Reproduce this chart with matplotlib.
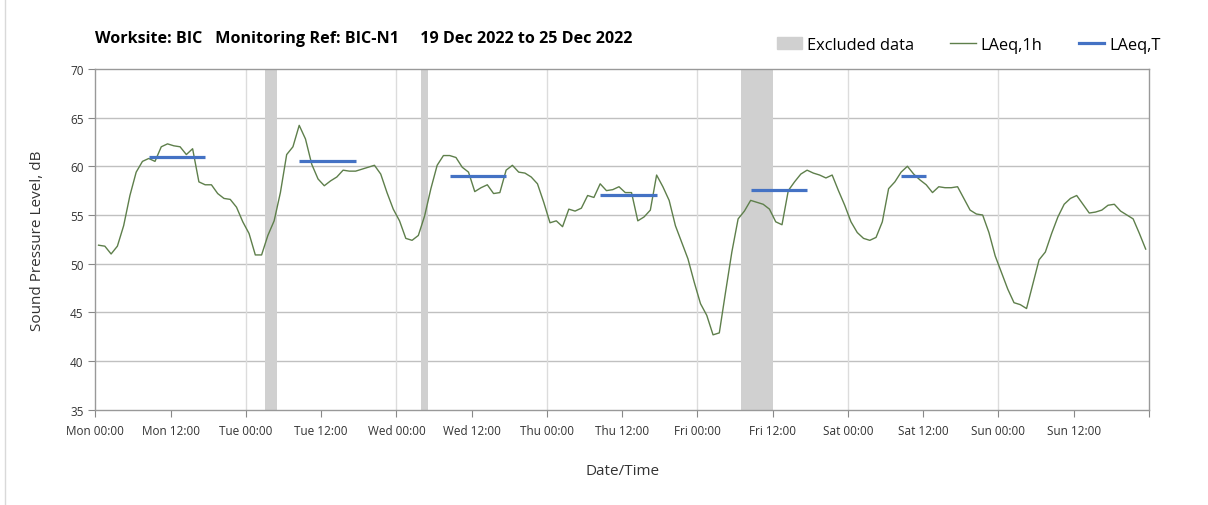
import numpy as np
import matplotlib
matplotlib.use("Agg")
import matplotlib.pyplot as plt
from matplotlib.patches import Patch
from matplotlib.lines import Line2D

plt.rcParams['font.family'] = ['Open Sans', 'DejaVu Sans']

# hourly LAeq,1h values, Mon 00:00 -> Sun 23:00 (plotted at mid-hour)
laeq_1h = [
    51.9, 51.8, 51.0, 51.8, 53.9, 57.0, 59.4, 60.5, 60.8, 60.5,
    62.0, 62.3, 62.1, 62.0, 61.2, 61.8, 58.4, 58.1, 58.1, 57.2,
    56.7, 56.6, 55.8, 54.3, 53.1, 50.9, 50.9, 52.9, 54.4, 57.3,
    61.2, 62.0, 64.2, 62.8, 60.2, 58.7, 58.0, 58.5, 58.9, 59.6,
    59.5, 59.5, 59.7, 59.9, 60.1, 59.2, 57.3, 55.6, 54.4, 52.6,
    52.4, 52.9, 54.9, 57.7, 60.1, 61.1, 61.1, 60.9, 59.9, 59.4,
    57.4, 57.8, 58.1, 57.2, 57.3, 59.6, 60.1, 59.4, 59.3, 58.9,
    58.2, 56.3, 54.2, 54.4, 53.8, 55.6, 55.4, 55.7, 57.0, 56.8,
    58.2, 57.5, 57.6, 57.9, 57.3, 57.3, 54.4, 54.8, 55.5, 59.1,
    57.9, 56.5, 53.9, 52.2, 50.5, 48.1, 45.9, 44.7, 42.7, 42.9,
    47.1, 51.2, 54.6, 55.4, 56.5, 56.3, 56.1, 55.6, 54.3, 54.0,
    57.5, 58.4, 59.2, 59.6, 59.3, 59.1, 58.8, 59.1, 57.5, 56.0,
    54.3, 53.2, 52.6, 52.4, 52.7, 54.3, 57.7, 58.4, 59.4, 60.0,
    59.2, 58.6, 58.1, 57.3, 57.9, 57.8, 57.8, 57.9, 56.7, 55.5,
    55.1, 55.0, 53.2, 50.8, 49.1, 47.4, 46.0, 45.8, 45.4, 47.9,
    50.4, 51.2, 53.1, 54.8, 56.1, 56.7, 57.0, 56.1, 55.2, 55.3,
    55.5, 56.0, 56.1, 55.4, 55.0, 54.6, 53.1, 51.5,
]
hours = np.arange(len(laeq_1h)) + 0.5

# LAeq,T periods (start hour, end hour, level)
laeq_t_start = [8.5, 32.5, 56.5, 80.5, 104.5, 128.5]
laeq_t_end = [17.5, 41.5, 65.5, 89.5, 113.5, 132.5]
laeq_t_val = [61.0, 60.5, 59.0, 57.1, 57.6, 59.0]

# excluded periods (hours from Mon 00:00)
excl_start = [27, 52, 103]
excl_end = [29, 53, 108]

tick_labels = ['Mon 00:00', 'Mon 12:00', 'Tue 00:00', 'Tue 12:00', 'Wed 00:00', 'Wed 12:00',
               'Thu 00:00', 'Thu 12:00', 'Fri 00:00', 'Fri 12:00', 'Sat 00:00', 'Sat 12:00',
               'Sun 00:00', 'Sun 12:00', '']

fig = plt.figure(figsize=(12.08, 5.06), dpi=100)
ax = fig.add_axes([0.079, 0.188, 0.872, 0.674])

for s, e in zip(excl_start, excl_end):
    ax.axvspan(s, e, color='#d0d0d0', lw=0, zorder=1)

ax.plot(hours, laeq_1h, color='#5E7F4B', lw=1.0, zorder=3)
for s, e, v in zip(laeq_t_start, laeq_t_end, laeq_t_val):
    ax.plot([s, e], [v, v], color='#4472C4', lw=2.3, zorder=4, solid_capstyle='butt')

ax.set_xlim(0, 168)
ax.set_ylim(35, 70)
ax.set_xticks(np.arange(0, 169, 12))
ax.set_xticklabels(tick_labels, fontsize=8.5, color='#333333')
ax.set_yticks(np.arange(35, 71, 5))
ax.tick_params(axis='y', labelsize=8.5, labelcolor='#333333', length=5, color='#888888')
ax.tick_params(axis='x', length=5, color='#888888', pad=5)

for y in range(40, 70, 5):
    ax.axhline(y, color='#c0c0c0', lw=1.0, zorder=0)
for x in range(24, 168, 24):
    ax.axvline(x, color='#dcdcdc', lw=1.0, zorder=0)
for sp in ax.spines.values():
    sp.set_color('#999999')
    sp.set_linewidth(1.0)

ax.set_ylabel('Sound Pressure Level, dB', fontsize=11, color='#333333', labelpad=18)
ax.set_xlabel('Date/Time', fontsize=11, color='#333333', labelpad=19)

fig.text(0.079, 0.922, 'Worksite: BIC   Monitoring Ref: BIC-N1     19 Dec 2022 to 25 Dec 2022',
         fontsize=11.6, fontweight='bold', va='center', ha='left')

handles = [Patch(color='#d0d0d0'),
           Line2D([], [], color='#5E7F4B', lw=1.0),
           Line2D([], [], color='#4472C4', lw=2.3)]
fig.legend(handles, ['Excluded data', 'LAeq,1h', 'LAeq,T'], ncol=3, frameon=False,
           loc='center left', bbox_to_anchor=(0.631, 0.910), fontsize=11.8,
           handlelength=1.55, handletextpad=0.3, columnspacing=2.2)

fig.add_artist(Line2D([0.004, 0.004], [0, 1], color='#d9d9d9', lw=1.0))

fig.savefig('out.png', dpi=100)
